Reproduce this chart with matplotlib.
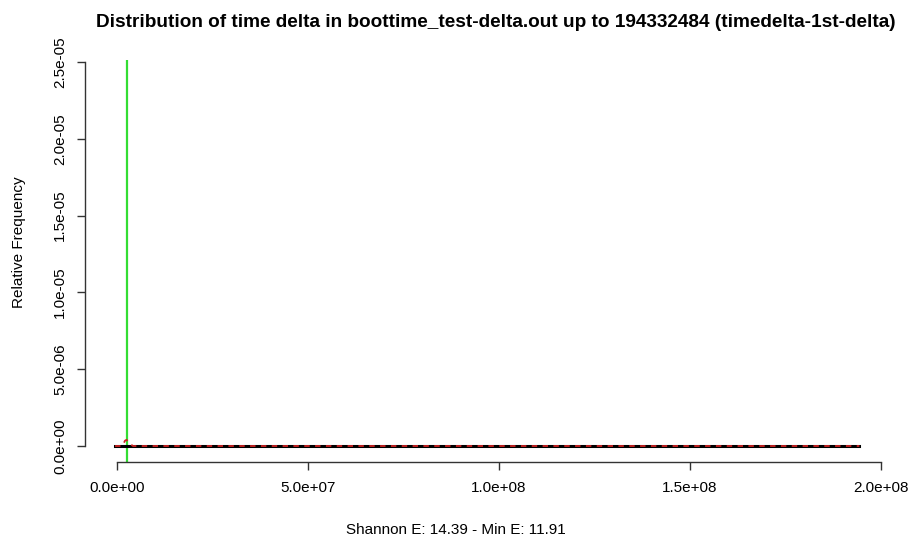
import matplotlib
matplotlib.use("Agg")
import matplotlib.pyplot as plt
import numpy as np

plt.rcParams['font.family'] = ['Liberation Sans', 'DejaVu Sans']

title = "Distribution of time delta in boottime_test-delta.out up to 194332484 (timedelta-1st-delta)"
xlabel = "Shannon E: 14.39 - Min E: 11.91"
ylabel = "Relative Frequency"

x_ticks = [0, 5e7, 1e8, 1.5e8, 2e8]
x_ticklabels = ["0.0e+00", "5.0e+07", "1.0e+08", "1.5e+08", "2.0e+08"]
y_ticks = [0, 5e-6, 1e-5, 1.5e-5, 2e-5, 2.5e-5]
y_ticklabels = ["0.0e+00", "5.0e-06", "1.0e-05", "1.5e-05", "2.0e-05", "2.5e-05"]

# green spike (histogram peak)
spike_x = [2.6e6]
spike_y = [2.51e-5]

# black baseline and red dashed density
base_x = [-5e5, 194332484]
base_y = [0, 0]
dens_x = [-5e5, 1.3e6, 1.7e6, 2.1e6, 2.5e6, 3.0e6, 3.6e6, 4.2e6, 194332484]
dens_y = [0, 0, 1.5e-7, 3.5e-7, 4e-7, 2.5e-7, 1e-7, 0, 0]

fig = plt.figure(figsize=(9.12, 5.37), dpi=100)
ax = fig.add_axes([85/912, 1-462/537, (888-85)/912, (462-36)/537])

# pixel-calibrated limits: x 0 -> 117px, 2e8 -> 881px ; y 0 -> 446px, 2.5e-5 -> 62px
x0, x1 = 117.0, 881.0
sx = 2e8 / (x1 - x0)
xlim = ((85 - x0) * sx, (888 - x0) * sx)
y0, y1 = 446.0, 62.0
sy = 2.5e-5 / (y0 - y1)
ylim = ((y0 - 462) * sy, (y0 - 36) * sy)
ax.set_xlim(*xlim)
ax.set_ylim(*ylim)

ax.vlines(spike_x, ylim[0], spike_y, color='#33dd33', lw=1.6, zorder=2)
ax.plot(base_x, base_y, color='black', lw=2.2, zorder=3)
ax.plot(dens_x, dens_y, color='#cc2222', lw=1.3, ls=(0, (3, 3)), zorder=4)

for s in ['top', 'right']:
    ax.spines[s].set_visible(False)
ax.spines['bottom'].set_bounds(0, 2e8)
ax.spines['left'].set_bounds(0, 2.5e-5)
for s in ['bottom', 'left']:
    ax.spines[s].set_color('#333333')
    ax.spines[s].set_linewidth(1.0)

ax.set_xticks(x_ticks)
ax.set_xticklabels(x_ticklabels, fontsize=11)
ax.set_yticks(y_ticks)
ax.set_yticklabels(y_ticklabels, fontsize=11, rotation=90, va='center')
ax.tick_params(axis='both', length=6, width=1.0, color='#333333')
ax.tick_params(axis='x', pad=8)
ax.tick_params(axis='y', pad=7)

fig.text(0.5, 1 - 534/537, xlabel, ha='center', va='baseline', fontsize=11)
fig.text(19.5/912, 1 - 242/537, ylabel, ha='center', va='center', rotation=90, fontsize=11)
fig.text(496/912, 1 - 27/537, title, ha='center', va='baseline', fontsize=13.7, fontweight='bold')

fig.savefig("out.png", dpi=100)
